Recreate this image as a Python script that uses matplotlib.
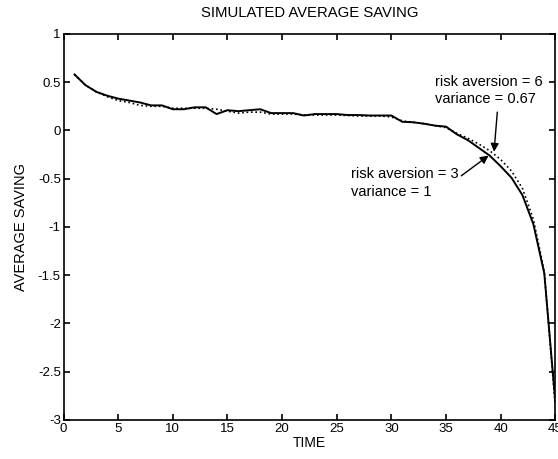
#!/usr/bin/env python3

import matplotlib
matplotlib.use("Agg")
import matplotlib.pyplot as plt
import numpy as np

plt.rc('font', family=['Liberation Sans', 'DejaVu Sans'], size=9.5)

time = np.arange(1, 46)

# risk aversion = 3, variance = 1 (solid)
saving_ra3 = [0.58, 0.47, 0.40, 0.36, 0.33, 0.31, 0.29, 0.26, 0.26, 0.22,
              0.22, 0.24, 0.24, 0.17, 0.21, 0.20, 0.21, 0.22, 0.18, 0.18,
              0.18, 0.155, 0.17, 0.17, 0.17, 0.16, 0.16, 0.155, 0.155, 0.155,
              0.09, 0.085, 0.07, 0.05, 0.04, -0.04, -0.10, -0.18, -0.26, -0.37,
              -0.49, -0.67, -0.97, -1.48, -2.80]

# risk aversion = 6, variance = 0.67 (dotted)
saving_ra6 = [0.58, 0.47, 0.40, 0.35, 0.31, 0.29, 0.26, 0.25, 0.25, 0.23,
              0.23, 0.23, 0.23, 0.22, 0.20, 0.18, 0.19, 0.19, 0.17, 0.17,
              0.17, 0.16, 0.16, 0.16, 0.16, 0.155, 0.15, 0.15, 0.15, 0.14,
              0.10, 0.085, 0.07, 0.05, 0.03, -0.03, -0.08, -0.14, -0.21, -0.30,
              -0.42, -0.60, -0.92, -1.46, -2.85]

xticks = np.arange(0, 46, 5)
yticks = np.arange(-3, 1.01, 0.5)


def plot_saving():
    fig = plt.figure(figsize=(5.58, 4.59), dpi=100)
    ax = fig.add_axes([0.114, 0.085, 0.881, 0.841])

    ax.plot(time, saving_ra3, color='black', linewidth=1.4, linestyle='-')
    ax.plot(time, saving_ra6, color='black', linewidth=1.2, linestyle=':')

    ax.set_xlim(0, 45)
    ax.set_ylim(-3, 1)
    ax.set_xticks(xticks)
    ax.set_yticks(yticks)
    ax.set_yticklabels(['-3', '-2.5', '-2', '-1.5', '-1', '-0.5', '0', '0.5', '1'])
    ax.tick_params(direction='in', top=True, right=True, length=4, width=1.2, pad=2)
    for s in ax.spines.values():
        s.set_linewidth(1.2)

    ax.set_xlabel('TIME', fontsize=10, labelpad=1)
    ax.set_ylabel('AVERAGE SAVING', fontsize=10.5, labelpad=7)
    ax.set_title('SIMULATED AVERAGE SAVING', fontsize=10.7, pad=12)

    arrow = dict(arrowstyle='-|>', color='black', linewidth=1.0, mutation_scale=12,
                 shrinkA=0, shrinkB=0)
    ax.text(34.0, 0.415, 'risk aversion = 6\nvariance = 0.67', ha='left', va='center',
            fontsize=10.5, linespacing=1.3)
    ax.annotate('', xy=(39.4, -0.22), xytext=(39.7, 0.19), arrowprops=arrow)
    ax.text(26.3, -0.545, 'risk aversion = 3\nvariance = 1', ha='left', va='center',
            fontsize=10.5, linespacing=1.3)
    ax.annotate('', xy=(38.9, -0.26), xytext=(36.4, -0.47), arrowprops=arrow)

    plt.savefig('out.png', dpi=100)
    plt.clf()


if __name__ == "__main__":
    plot_saving()
